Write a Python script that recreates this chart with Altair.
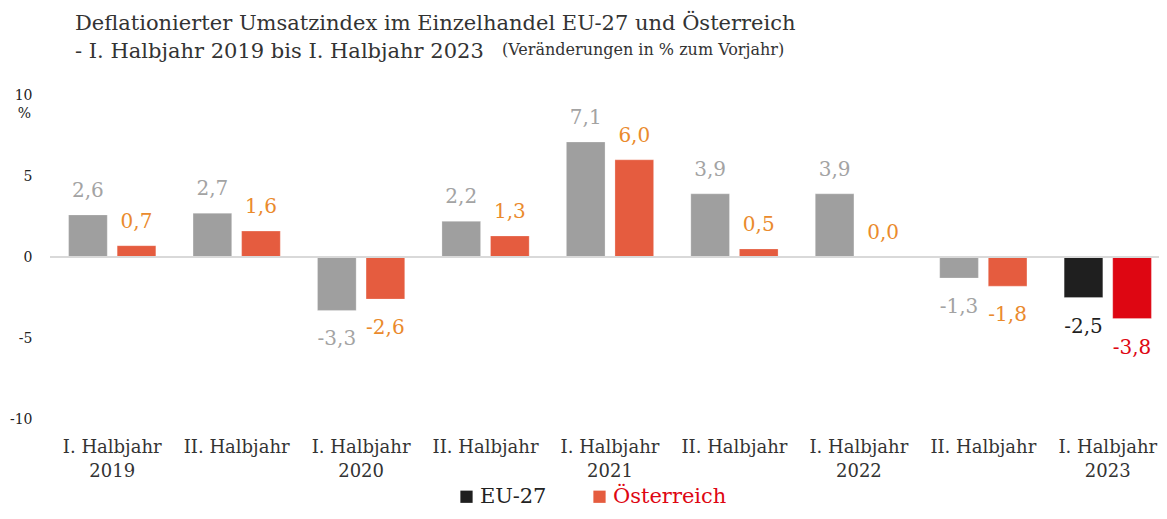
import altair as alt
import pandas as pd

periods = ["I. Halbjahr 2019", "II. Halbjahr 2019", "I. Halbjahr 2020", "II. Halbjahr 2020",
           "I. Halbjahr 2021", "II. Halbjahr 2021", "I. Halbjahr 2022", "II. Halbjahr 2022",
           "I. Halbjahr 2023"]
eu27 = [2.6, 2.7, -3.3, 2.2, 7.1, 3.9, 3.9, -1.3, -2.5]
austria = [0.7, 1.6, -2.6, 1.3, 6.0, 0.5, 0.0, -1.8, -3.8]
series_names = ["EU-27", "Österreich"]
y_ticks = [-10, -5, 0, 5, 10]

title_lines = ["Deflationierter Umsatzindex im Einzelhandel EU-27 und Österreich",
               "- I. Halbjahr 2019 bis I. Halbjahr 2023"]
note = "(Veränderungen in % zum Vorjahr)"

kinds = ["EU-27", "EU-27 aktuell", "Österreich", "Österreich aktuell"]
bar_colors = ["#9f9f9f", "#1f1f1f", "#e55c3f", "#de0612"]
text_colors = ["#a3a3a3", "#1f1f1f", "#ea8a2c", "#de0612"]

FONT = "DejaVu Serif"

rows = []
for i, p in enumerate(periods):
    last = i == len(periods) - 1
    for s, vals in zip(series_names, [eu27, austria]):
        v = vals[i]
        rows.append({
            "period": p,
            "series": s,
            "value": v,
            "kind": s + (" aktuell" if last else ""),
            "label": f"{v:.1f}".replace(".", ","),
        })
df = pd.DataFrame(rows)

x_enc = alt.X(
    "period:N", sort=periods,
    scale=alt.Scale(range=[0, 1120], paddingInner=0, paddingOuter=0),
    axis=alt.Axis(
        title=None, labelAngle=0, domain=False, ticks=False,
        labelExpr="indexof(datum.label, 'II.') == 0 ? 'II. Halbjahr' : [substring(datum.label, 0, 11), substring(datum.label, 12)]",
        labelFont=FONT, labelFontSize=18, labelColor="#333333",
        labelPadding=19, labelLineHeight=24, labelBaseline="top",
    ),
)
xoff_enc = alt.XOffset("series:N", sort=series_names,
                       scale=alt.Scale(paddingInner=0.204, paddingOuter=0.383))
y_enc = alt.Y(
    "value:Q",
    scale=alt.Scale(domain=[-10, 10], nice=False),
    axis=alt.Axis(
        values=y_ticks, grid=False, domain=False, ticks=False,
        labelExpr="'' + datum.value", labelFont=FONT, labelFontSize=14,
        labelColor="#222222", labelPadding=18,
        title="%", titleAngle=0, titleX=-26, titleY=18, titleAlign="center",
        titleBaseline="middle", titleFont=FONT, titleFontSize=14,
        titleFontWeight="normal", titleColor="#222222",
    ),
)

base = alt.Chart(df)

bars = base.mark_bar(stroke="#ffffff", strokeOpacity=0.25, strokeWidth=1).encode(
    x=x_enc, xOffset=xoff_enc, y=y_enc,
    fill=alt.Fill(
        "kind:N",
        scale=alt.Scale(domain=kinds, range=bar_colors),
        legend=alt.Legend(
            values=["EU-27 aktuell", "Österreich"],
            labelExpr="datum.value == 'EU-27 aktuell' ? 'EU-27' : 'Österreich'",
            orient="none", legendX=406, legendY=391, direction="horizontal",
            title=None, symbolType="square", symbolSize=150, symbolStrokeWidth=0,
            labelFont=FONT, labelFontSize=21,
            labelColor=alt.ExprRef(expr="datum.value == 'Österreich' ? '#de0612' : '#222222'"),
            columnPadding=42, labelOffset=3,
        ),
    ),
)

zero = alt.Chart(pd.DataFrame({"v": [0]})).mark_rule(color="#d9d9d9", strokeWidth=2).encode(
    y=alt.Y("v:Q")
)

txt_color = alt.Color("kind:N", scale=alt.Scale(domain=kinds, range=text_colors), legend=None)

pos_labels = base.transform_filter("datum.value >= 0").mark_text(
    font=FONT, fontSize=20, dy=-24, baseline="middle"
).encode(x=x_enc, xOffset=xoff_enc, y=y_enc, text="label:N", color=txt_color)

neg_labels = base.transform_filter("datum.value < 0").mark_text(
    font=FONT, fontSize=20, dy=29, baseline="middle"
).encode(x=x_enc, xOffset=xoff_enc, y=y_enc, text="label:N", color=txt_color)

note_layer = alt.Chart(pd.DataFrame({"t": [note]})).mark_text(
    font=FONT, fontSize=16, align="left", baseline="middle", color="#333333"
).encode(x=alt.value(452), y=alt.value(-45), text="t:N")

chart = alt.layer(bars, zero, pos_labels, neg_labels, note_layer).properties(
    width=1109, height=324,
    autosize=alt.AutoSizeParams(type="none"),
    padding={"left": 42, "top": 87, "right": 0, "bottom": 92},
    title=alt.TitleParams(
        text=title_lines, anchor="start", frame="group", dx=25, dy=50, offset=30,
        font=FONT, fontSize=21, fontWeight="normal", color="#333333", lineHeight=28,
    ),
).resolve_scale(color="independent", fill="independent").configure_view(stroke=None)

chart.save("out.html", embed_options={"renderer": "svg", "actions": False})
